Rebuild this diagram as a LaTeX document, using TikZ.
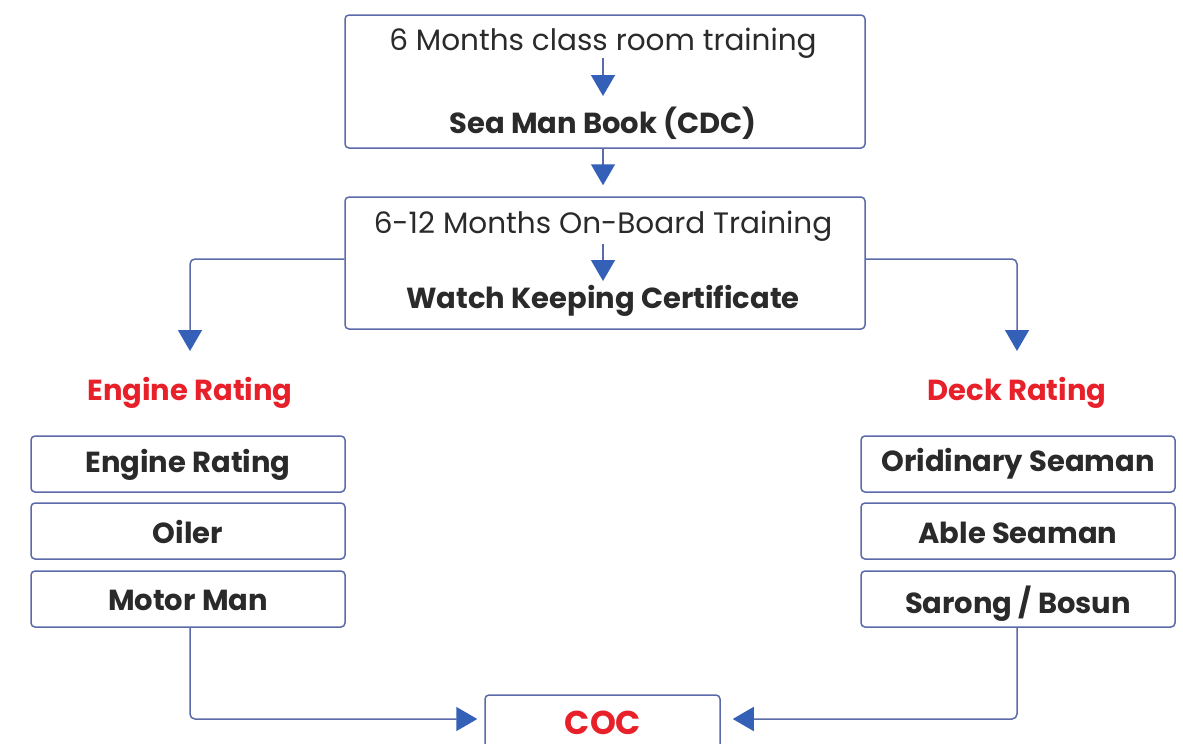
\documentclass[tikz,border=0pt]{standalone}
\usepackage{fontspec}
\setmainfont{Poppins}
\usetikzlibrary{arrows.meta}
\definecolor{lineblue}{HTML}{5B6AA8}
\definecolor{tipblue}{HTML}{3560B8}
\definecolor{txt}{HTML}{2A2A2A}
\definecolor{redtxt}{HTML}{E8202A}
\tikzset{
  box/.style={draw=lineblue, line width=1.5pt, rounded corners=4pt, fill=white, inner sep=0pt},
  regtxt/.style={text=txt, font=\fontsize{29.5}{34}\selectfont, inner sep=0pt},
  boldtxt/.style={text=txt, font=\fontsize{29}{34}\selectfont\bfseries, inner sep=0pt},
  redlbl/.style={text=redtxt, font=\fontsize{29}{34}\selectfont\bfseries, inner sep=0pt},
  conn/.style={draw=lineblue, line width=1.5pt, rounded corners=5pt,
    -{Triangle[width=24pt,length=21pt,fill=tipblue,color=tipblue]}},
}
\begin{document}
\begin{tikzpicture}[x=1pt,y=-1pt]
\clip (0,0) rectangle (1183,744);
\fill[white] (0,0) rectangle (1183,744);
% top boxes
\node[box, minimum width=520pt, minimum height=133pt] (b1) at (605,81.5) {};
\node[regtxt] (t1) at (603,43) {6 Months class room training};
\node[boldtxt] (t2) at (603,123) {Sea Man Book (CDC)};
\node[box, minimum width=520pt, minimum height=132pt] (b2) at (605,263) {};
\node[regtxt] (t3) at (603,226) {6-12 Months On-Board Training};
\node[boldtxt] (t4) at (603,301) {Watch Keeping Certificate};
\coordinate (a1s) at (603,58);
\coordinate (a1e) at (603,96);
\coordinate (a3s) at (603,244);
\coordinate (a3e) at (603,281);
\draw[conn] (a1s) -- (a1e);
\draw[conn] (b1.south -| a1s) -- ([yshift=11pt]b2.north -| a1s);
\draw[conn] (a3s) -- (a3e);
% branches
\coordinate (eL) at (190,351);
\coordinate (eR) at (1017,351);
\draw[conn] ([yshift=4pt]b2.west) -| (eL);
\draw[conn] ([yshift=4pt]b2.east) -| (eR);
\node[redlbl] (er) at (190,393) {Engine Rating};
\node[redlbl] (dr) at (1017,393) {Deck Rating};
% left column
\node[box, minimum width=314pt, minimum height=56pt] (l1) at (188,464) {};
\node[boldtxt] at ([yshift=-1pt]l1) {Engine Rating};
\node[box, minimum width=314pt, minimum height=56pt] (l2) at (188,531) {};
\node[boldtxt] at ([yshift=-1pt]l2) {Oiler};
\node[box, minimum width=314pt, minimum height=56pt] (l3) at (188,599) {};
\node[boldtxt] at ([yshift=-1pt]l3) {Motor Man};
% right column
\node[box, minimum width=314pt, minimum height=56pt] (r1) at (1018,464) {};
\node[boldtxt] at ([yshift=0pt]r1) {Oridinary Seaman};
\node[box, minimum width=314pt, minimum height=56pt] (r2) at (1018,531) {};
\node[boldtxt] at ([yshift=-2pt]r2) {Able Seaman};
\node[box, minimum width=314pt, minimum height=56pt] (r3) at (1018,599) {};
\node[boldtxt] at ([yshift=-5pt]r3) {Sarong / Bosun};
% COC
\node[box, minimum width=235pt, minimum height=70pt] (coc) at (602.5,730) {};
\node[redlbl, font=\fontsize{33}{38}\selectfont\bfseries] at (603,723) {COC};
\draw[conn, shorten >=7pt] (l3.south -| eL) |- ([yshift=11pt]coc.west);
\draw[conn, shorten >=12pt] (r3.south -| eR) |- ([yshift=11pt]coc.east);
\end{tikzpicture}
\end{document}
